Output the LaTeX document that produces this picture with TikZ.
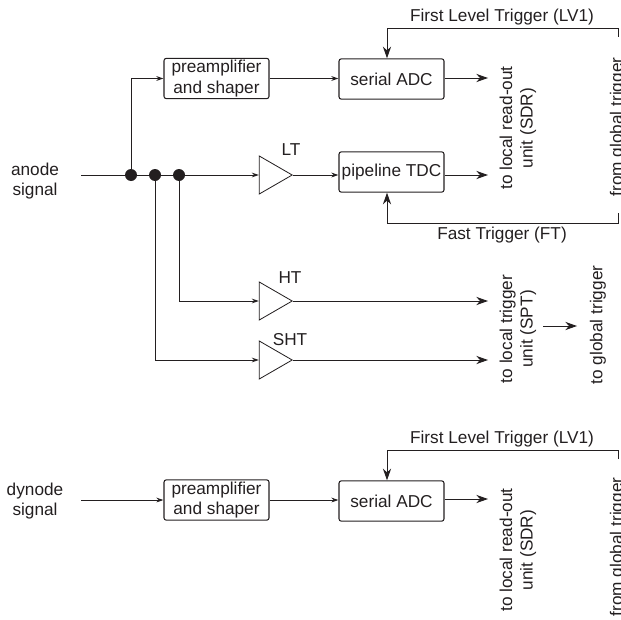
\documentclass[tikz,border=0pt]{standalone}
\usepackage{fontspec}
\setmainfont{Liberation Sans}
\usetikzlibrary{arrows.meta, positioning, shapes.geometric, calc}
\definecolor{inkgray}{HTML}{231F20}

\begin{document}
\begin{tikzpicture}[
    x=0.03cm, y=-0.03cm,
    every node/.style={text=inkgray, font=\fontsize{14.7}{17.5}\selectfont, align=center},
    blockbox/.style={draw=inkgray, rounded corners=2pt, line width=0.9pt, inner sep=0pt,
                 minimum width=3.15cm, minimum height=1.21cm},
    ampl/.style={draw=inkgray, isosceles triangle, isosceles triangle apex angle=60, inner sep=0pt,
                 minimum height=0.99cm, line width=0.7pt, anchor=apex},
    junction/.style={circle, fill=inkgray, inner sep=0pt, minimum size=0.36cm},
    wire/.style={draw=inkgray, line width=0.85pt},
    sarr/.style={wire, -{Stealth[length=6pt, width=4pt]}},
    barr/.style={wire, -{Stealth[length=10pt, width=7pt]}},
    sidetext/.style={rotate=90},
]
    \useasboundingbox (0, 0) rectangle (621, 619);

    % Anode channel
    \node[blockbox] (pre1) at (216.5, 78.5) {preamplifier\\and shaper};
    \node[blockbox] (adc1) at (391.5, 79) {serial ADC};
    \node[blockbox] (tdc1) at (391.5, 172) {pipeline TDC};
    \node (anode) at (35, 181) {anode\\signal};

    \node[junction] (j1) at (131, 175) {};
    \node[junction] (j2) at (155, 175) {};
    \node[junction] (j3) at (179, 175) {};
    \coordinate (anodein) at (81, 175);

    \node[ampl] (lt) at (293, 175) {};
    \node[ampl] (ht) at (293, 301) {};
    \node[ampl] (sht) at (293, 360) {};
    \node (ltlab) at (291, 150) {LT};
    \node (htlab) at (290, 278) {HT};
    \node (shtlab) at (290, 340) {SHT};

    \draw[wire] (anodein) -- (j1) -- (j2) -- (j3);
    \draw[sarr] (j3) -- (lt.lower side);
    \draw[sarr] (j1) |- (pre1.west);
    \draw[sarr] (j3) |- (ht.lower side);
    \draw[sarr] (j2) |- (sht.lower side);
    \draw[sarr] (pre1.east) -- (pre1.east -| adc1.west);
    \draw[sarr] (lt.apex) -- (lt.apex -| tdc1.west);

    % Outputs
    \coordinate (adcout) at (488, 78);
    \coordinate (tdcout) at (488, 175);
    \coordinate (htout) at (488, 301);
    \coordinate (shtout) at (488, 360);
    \draw[barr] (adc1.east |- adcout) -- (adcout);
    \draw[barr] (tdc1.east |- tdcout) -- (tdcout);
    \draw[barr] (ht.apex) -- (htout);
    \draw[barr] (sht.apex) -- (shtout);

    \node[sidetext] (sdr1) at (518, 128) {to local read-out\\unit (SDR)};
    \node[sidetext] (spt) at (518, 329) {to local trigger\\unit (SPT)};
    \node[sidetext] (glob) at (598, 325) {to global trigger};
    \node[sidetext] (from1) at (618, 127) {from global trigger};
    \coordinate (globa) at (543, 326);
    \coordinate (globb) at (577, 326);
    \draw[barr] (globa) -- (globb);

    % Trigger lines
    \coordinate (lv1s) at (618, 37);
    \coordinate (lv1t) at (387, 28);
    \coordinate (fts) at (618, 213);
    \coordinate (ftt) at (387, 223);
    \node (lv1lab) at (502, 17) {First Level Trigger (LV1)};
    \node (ftlab) at (502, 235) {Fast Trigger (FT)};
    \draw[barr] (lv1s) |- (lv1t) -- (lv1t |- adc1.north);
    \draw[barr] (fts) |- (ftt) -- (ftt |- tdc1.south);

    % Dynode channel
    \node (dynode) at (35, 501) {dynode\\signal};
    \coordinate (dynin) at (81, 500);
    \node[blockbox] (pre2) at (216.5, 500) {preamplifier\\and shaper};
    \node[blockbox] (adc2) at (391.5, 501) {serial ADC};
    \draw[sarr] (dynin) -- (pre2.west);
    \draw[sarr] (pre2.east) -- (pre2.east -| adc2.west);
    \coordinate (adc2out) at (488, 499);
    \draw[barr] (adc2.east |- adc2out) -- (adc2out);
    \node[sidetext] (sdr2) at (518, 550) {to local read-out\\unit (SDR)};
    \node[sidetext] (from2) at (618, 547) {from global trigger};
    \coordinate (lv2s) at (618, 459);
    \coordinate (lv2t) at (387, 450);
    \node (lv2lab) at (502, 439) {First Level Trigger (LV1)};
    \draw[barr] (lv2s) |- (lv2t) -- (lv2t |- adc2.north);
\end{tikzpicture}
\end{document}
